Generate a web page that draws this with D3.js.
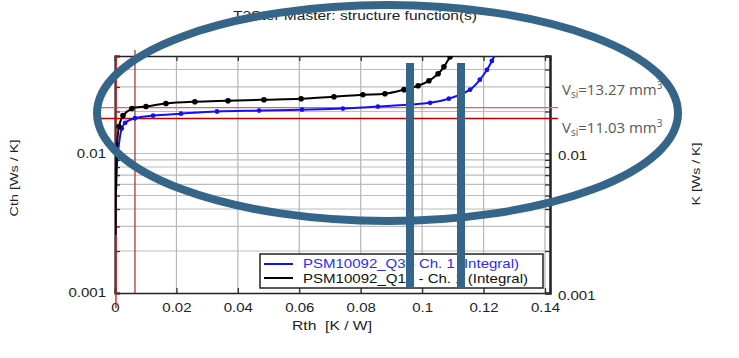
<!DOCTYPE html>
<html><head><meta charset="utf-8">
<script src="https://cdn.jsdelivr.net/npm/d3@7"></script>
<style>body{margin:0;background:#fff;} svg{display:block;font-family:"Liberation Sans",Arial,sans-serif;}</style>
</head><body>
<script>
// ---- data ----
const xTicks = [0, 0.02, 0.04, 0.06, 0.08, 0.1, 0.12, 0.14];
const xTickLabels = ["0", "0.02", "0.04", "0.06", "0.08", "0.1", "0.12", "0.14"];
const yTicks = [0.001, 0.01];
const yTickLabels = ["0.001", "0.01"];
const blackRth = [0.0002, 0.0003, 0.0006, 0.0013, 0.0026, 0.0055, 0.0101, 0.0166, 0.0260, 0.0368, 0.0485, 0.0606, 0.0713, 0.0807, 0.0879, 0.0941, 0.0987, 0.1022, 0.1052, 0.1071, 0.1091, 0.1100];
const blackCth = [0.0026, 0.0060, 0.0110, 0.0156, 0.0187, 0.0210, 0.0217, 0.0228, 0.0235, 0.0239, 0.0243, 0.0247, 0.0255, 0.0264, 0.0268, 0.0287, 0.0306, 0.0332, 0.0373, 0.0418, 0.0493, 0.0520];
const blueRth = [0.0004, 0.0007, 0.0012, 0.0022, 0.0033, 0.0065, 0.0124, 0.0215, 0.0332, 0.0469, 0.0609, 0.0742, 0.0856, 0.1026, 0.1087, 0.1156, 0.1188, 0.1211, 0.1227, 0.1240];
const blueCth = [0.0055, 0.0086, 0.0113, 0.0151, 0.0166, 0.0179, 0.0187, 0.0193, 0.0200, 0.0203, 0.0206, 0.0210, 0.0217, 0.0231, 0.0247, 0.0287, 0.0338, 0.0398, 0.0461, 0.0520];
const blackMarkerFrom = 3, blueMarkerFrom = 3;
const seriesNames = ["PSM10092_Q3 - Ch. 1 (Integral)", "PSM10092_Q16 - Ch. 1 (Integral)"];
const refRth = [0.0003, 0.0065];
const refCth = [0.0213, 0.0178];
const refLabels = ["13.27", "11.03"];

// ---- layout ----
const W = 739, H = 358;
const L = 115, R = 550, T = 56, B = 293;
const svg = d3.select("body").append("svg").attr("width", W).attr("height", H);
const x = d3.scaleLinear().domain([0, 0.14 + 5 / 3071.4]).range([L, R]);
const y = d3.scaleLog().domain([0.001, 0.05]).range([B, T]);
function stretch(sel, k) { sel.each(function () { const w = this.getComputedTextLength(); if (w > 0) d3.select(this).attr("textLength", w * k).attr("lengthAdjust", "spacingAndGlyphs"); }); }
function fit(sel, w) { sel.attr("textLength", w).attr("lengthAdjust", "spacingAndGlyphs"); }

// grid
const minorY = [];
for (let d = 0.001; d < 0.05; d *= 10) for (let k = 1; k <= 9; k++) { const v = d * k; if (v <= 0.05) minorY.push(v); }
const g = svg.append("g");
g.selectAll(".hg").data(minorY.filter(v => v > 0.001 && v < 0.05)).enter().append("line")
  .attr("x1", L).attr("x2", R).attr("y1", d => y(d)).attr("y2", d => y(d))
  .attr("stroke", "#bdbdbd").attr("stroke-width", 1.2);
g.selectAll(".vg").data(xTicks.slice(1)).enter().append("line")
  .attr("x1", d => x(d)).attr("x2", d => x(d)).attr("y1", T).attr("y2", B)
  .attr("stroke", "#b5b5b5").attr("stroke-width", 1.2);

// axes via d3
const ax = d3.axisBottom(x).tickValues(xTicks).tickFormat((d, i) => xTickLabels[i]).tickSize(-5).tickPadding(9);
const gx = svg.append("g").attr("transform", `translate(0,${B})`).call(ax);
const axT = d3.axisTop(x).tickValues(xTicks).tickFormat("").tickSize(-5);
const gxt = svg.append("g").attr("transform", `translate(0,${T})`).call(axT);
const lab = d => { const i = yTicks.findIndex(t => Math.abs(t - d) < 1e-9); return i >= 0 ? yTickLabels[i] : ""; };
const ayl = d3.axisLeft(y).tickValues(minorY).tickFormat(lab).tickSize(-5).tickPadding(9);
const gyl = svg.append("g").attr("transform", `translate(${L},0)`).call(ayl);
const ayr = d3.axisRight(y).tickValues(minorY).tickFormat(lab).tickSize(-5).tickPadding(8);
const gyr = svg.append("g").attr("transform", `translate(${R},0)`).call(ayr);
[gx, gxt, gyl, gyr].forEach(a => {
  a.select(".domain").attr("stroke", "#222").attr("stroke-width", 1.5);
  a.selectAll(".tick line").attr("stroke", "#333").attr("stroke-width", 1.3);
  a.selectAll("text").attr("font-size", 12.5).attr("fill", "#222").attr("font-family", "Liberation Sans, Arial, sans-serif");
  stretch(a.selectAll("text"), 1.2);
});
gyl.select(".domain").attr("stroke-width", 2.2);
gyr.select(".domain").attr("stroke-width", 2.5);
gx.selectAll("text").attr("dy", "0.8em");
gyr.selectAll(".tick text").attr("dy", "0.5em");
gyl.selectAll(".tick text").attr("dy", "0.3em");

// reference lines
svg.append("line").attr("x1", 100).attr("x2", 558).attr("y1", y(refCth[0])).attr("y2", y(refCth[0]))
  .attr("stroke", "#f05a5a").attr("stroke-width", 1.2);
svg.append("line").attr("x1", 100).attr("x2", 558).attr("y1", y(refCth[1])).attr("y2", y(refCth[1]))
  .attr("stroke", "#c00000").attr("stroke-width", 1.5);
svg.append("line").attr("x1", x(refRth[0])).attr("x2", x(refRth[0])).attr("y1", 55).attr("y2", 308)
  .attr("stroke", "#ff0000").attr("stroke-width", 1.3);
svg.append("line").attr("x1", x(refRth[1])).attr("x2", x(refRth[1])).attr("y1", 50).attr("y2", B)
  .attr("stroke", "#a83a3a").attr("stroke-width", 1.3);

// curves
svg.append("clipPath").attr("id", "c").append("rect").attr("x", L).attr("y", T).attr("width", R - L).attr("height", B - T);
const line = d3.line().x(d => x(d[0])).y(d => y(d[1])).curve(d3.curveCatmullRom.alpha(0.5));
const blue = blueRth.map((v, i) => [v, blueCth[i]]);
const black = blackRth.map((v, i) => [v, blackCth[i]]);
const cg = svg.append("g").attr("clip-path", "url(#c)");
cg.append("path").attr("d", line(blue)).attr("fill", "none").attr("stroke", "#1010ff").attr("stroke-width", 2);
cg.selectAll(".bm").data(blue.slice(blueMarkerFrom, blue.length - 1)).enter().append("circle")
  .attr("cx", d => x(d[0])).attr("cy", d => y(d[1])).attr("r", 2.4).attr("fill", "#1010ff");
cg.append("path").attr("d", line(black)).attr("fill", "none").attr("stroke", "#000").attr("stroke-width", 2);
cg.selectAll(".km").data(black.slice(blackMarkerFrom, black.length - 1)).enter().append("circle")
  .attr("cx", d => x(d[0])).attr("cy", d => y(d[1])).attr("r", 2.8).attr("fill", "#000");

// legend
const lg = svg.append("g");
lg.append("rect").attr("x", 260).attr("y", 254).attr("width", 283).attr("height", 34).attr("fill", "#fff").attr("stroke", "#222").attr("stroke-width", 1.5);
lg.append("line").attr("x1", 264).attr("x2", 293).attr("y1", 264).attr("y2", 264).attr("stroke", "#1010ff").attr("stroke-width", 2);
lg.append("line").attr("x1", 264).attr("x2", 293).attr("y1", 278).attr("y2", 278).attr("stroke", "#000").attr("stroke-width", 2);
fit(lg.append("text").attr("x", 303).attr("y", 268).attr("font-size", 13).attr("fill", "#2a2aff").text(seriesNames[0]), 216);
fit(lg.append("text").attr("x", 303).attr("y", 282.5).attr("font-size", 13).attr("fill", "#111").text(seriesNames[1]), 225);

// titles
fit(svg.append("text").attr("x", 355).attr("y", 20).attr("text-anchor", "middle").attr("font-size", 13).attr("fill", "#222").text("T3Ster Master: structure function(s)"), 244);
fit(svg.append("text").attr("x", 332).attr("y", 330).attr("text-anchor", "middle").attr("font-size", 13).attr("fill", "#222").attr("xml:space", "preserve").text("Rth  [K / W]"), 80);
fit(svg.append("text").attr("transform", "translate(18,178) rotate(-90)").attr("text-anchor", "middle").attr("font-size", 11.5).attr("fill", "#222").text("Cth [Ws / K]"), 77);
fit(svg.append("text").attr("transform", "translate(700,174) rotate(-90)").attr("text-anchor", "middle").attr("font-size", 11.5).attr("fill", "#222").text("K [Ws / K]"), 63);

// annotations
[[95, refLabels[0]], [133, refLabels[1]]].forEach(([yy, lb]) => {
  const t = svg.append("text").attr("x", 562).attr("y", yy).attr("font-size", 15).attr("fill", "#595959").attr("font-family", "Open Sans, sans-serif");
  t.append("tspan").text("V");
  t.append("tspan").attr("font-size", 10).attr("dy", 3).text("si");
  t.append("tspan").attr("dy", -3).text("=" + lb + " mm");
  t.append("tspan").attr("font-size", 10).attr("dy", -6).text("3");
});

// overlay highlight shapes
const ov = svg.append("g");
ov.append("ellipse").attr("cx", 387.5).attr("cy", 113).attr("rx", 290.5).attr("ry", 108).attr("fill", "none").attr("stroke", "#36658a").attr("stroke-width", 8);
ov.append("rect").attr("x", 406).attr("y", 63).attr("width", 8).attr("height", 225).attr("fill", "#36658a");
ov.append("rect").attr("x", 457).attr("y", 63).attr("width", 8).attr("height", 225).attr("fill", "#36658a");
</script>
</body></html>
